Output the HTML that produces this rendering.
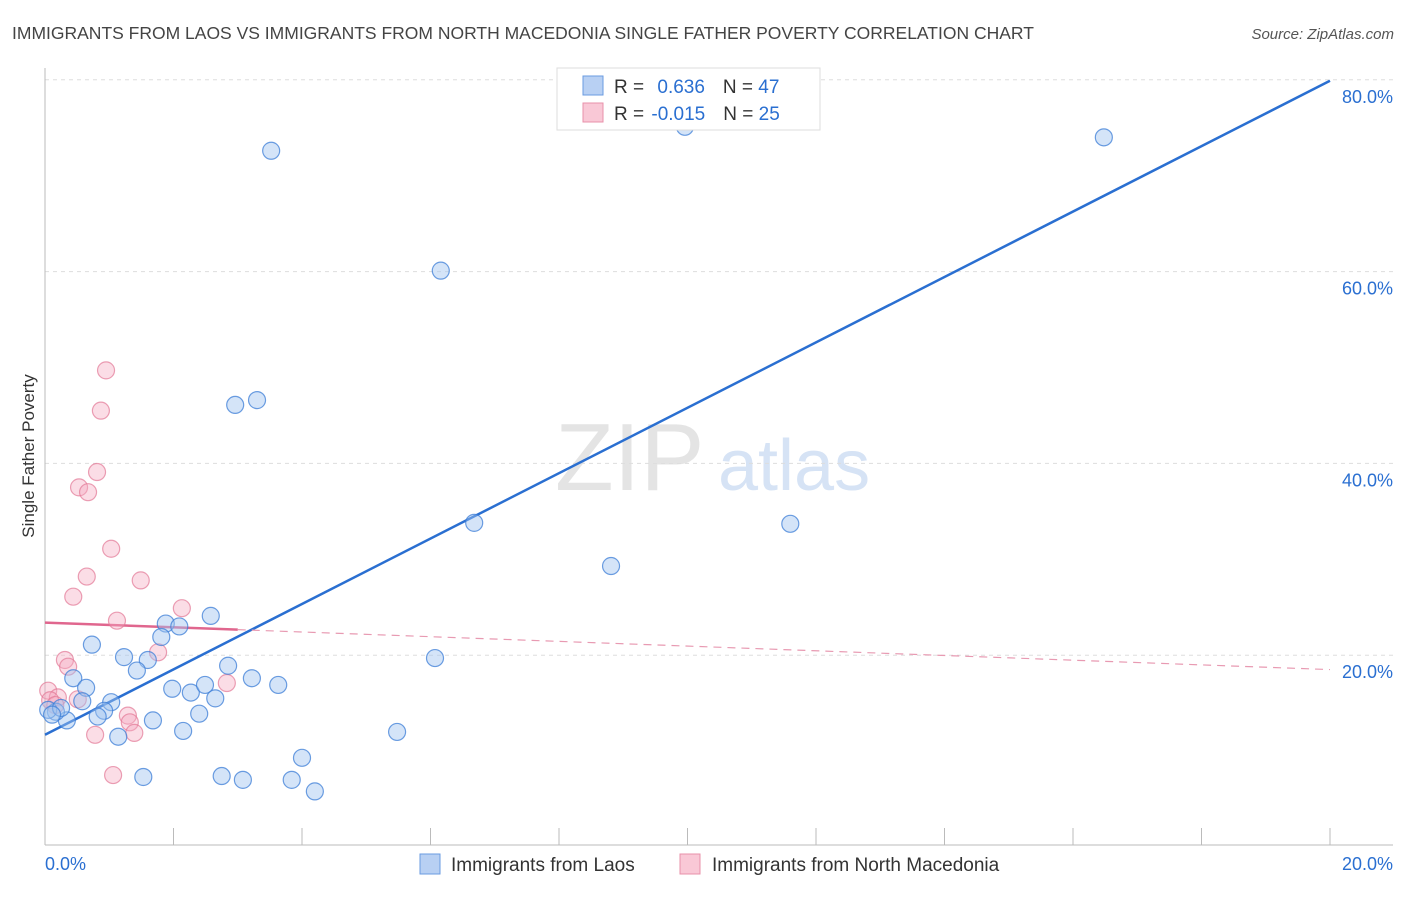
<!DOCTYPE html>
<html><head><meta charset="utf-8"><style>
body{margin:0;background:#fff;font-family:"Liberation Sans",sans-serif}
svg text{font-family:"Liberation Sans",sans-serif}
</style></head><body>
<svg id="chart" width="1406" height="892" viewBox="0 0 1406 892" xmlns="http://www.w3.org/2000/svg">
<text x="12" y="39" font-size="17.5" fill="#444">IMMIGRANTS FROM LAOS VS IMMIGRANTS FROM NORTH MACEDONIA SINGLE FATHER POVERTY CORRELATION CHART</text>
<text x="1394" y="39" font-size="15" fill="#555" text-anchor="end" font-style="italic">Source: ZipAtlas.com</text>
<text x="555" y="490" font-size="96" fill="#e4e4e4" font-family="Liberation Serif">ZIP</text>
<text x="718" y="490" font-size="72" fill="#d6e3f5">atlas</text>
<g id="grid"></g>
<g id="axes"></g>
<g id="lines"></g>
<g id="pts"></g>
<text transform="translate(34,456) rotate(-90)" font-size="17" fill="#333" text-anchor="middle">Single Father Poverty</text>
<g>
<rect x="557" y="68" width="263" height="62" fill="#fff" stroke="#ddd"/>
<rect x="583" y="76" width="20" height="19" fill="#b8d0f3" stroke="#6a9be0"/>
<rect x="583" y="103" width="20" height="19" fill="#f9c8d6" stroke="#e890aa"/>
<text x="614" y="93" font-size="19" fill="#333">R = <tspan fill="#2a6fd1" dx="8">0.636</tspan><tspan dx="18" fill="#333">N = </tspan><tspan fill="#2a6fd1">47</tspan></text>
<text x="614" y="120" font-size="19" fill="#333">R = <tspan fill="#2a6fd1" dx="2">-0.015</tspan><tspan dx="18" fill="#333">N = </tspan><tspan fill="#2a6fd1">25</tspan></text>
</g>
<g>
<rect x="420" y="854" width="20" height="20" fill="#b8d0f3" stroke="#6a9be0"/>
<text x="451" y="871" font-size="19" fill="#333">Immigrants from Laos</text>
<rect x="680" y="854" width="20" height="20" fill="#f9c8d6" stroke="#e890aa"/>
<text x="712" y="871" font-size="19" fill="#333">Immigrants from North Macedonia</text>
</g>
</svg>
<script>
const laosX=[3.52,6.16,9.96,16.48,2.96,3.30,6.68,8.81,11.60,6.07,5.48,2.58,1.88,2.09,1.81,0.73,1.23,1.60,1.43,2.85,3.22,3.63,0.44,0.64,1.98,2.27,2.49,2.65,1.03,0.58,0.92,2.40,1.68,0.82,0.34,0.17,0.05,0.25,0.11,1.14,2.15,2.75,3.08,3.84,4.20,4.00,1.53];
const laosY=[72.6,60.1,75.1,74.0,46.1,46.6,33.8,29.3,33.7,19.7,12.0,24.1,23.3,23.0,21.9,21.1,19.8,19.5,18.4,18.9,17.6,16.9,17.6,16.6,16.5,16.1,16.9,15.5,15.1,15.2,14.2,13.9,13.2,13.6,13.2,14.1,14.3,14.5,13.8,11.5,12.1,7.4,7.0,7.0,5.8,9.3,7.3];
const macX=[0.95,0.87,0.81,0.53,0.67,1.03,0.65,1.49,0.44,2.13,1.12,1.76,0.31,0.36,0.05,0.20,0.51,2.83,1.29,1.32,1.39,0.78,1.06,0.08,0.16];
const macY=[49.7,45.5,39.1,37.5,37.0,31.1,28.2,27.8,26.1,24.9,23.6,20.3,19.5,18.8,16.3,15.6,15.4,17.1,13.7,13.0,11.9,11.7,7.5,15.3,14.8];
const laosTrend=[11.7,79.9];
const macTrend=[23.4,18.5];
const macSolidEnd=3.0;
const yTicks=[20,40,60,80];
const yTickLabels=["20.0%","40.0%","60.0%","80.0%"];
const xTicks=[0,2,4,6,8,10,12,14,16,18,20];
const xEndLabels=["0.0%","20.0%"];
const NS="http://www.w3.org/2000/svg";
const sx=v=>45+v/20*1285;
const sy=v=>847-v*9.59;
function mk(tag,attrs,parent){const e=document.createElementNS(NS,tag);for(const k in attrs)e.setAttribute(k,attrs[k]);parent.appendChild(e);return e;}
const grid=document.getElementById('grid'),axes=document.getElementById('axes'),lines=document.getElementById('lines'),pts=document.getElementById('pts');
yTicks.forEach((t,i)=>{
 const l=mk('line',{x1:45,x2:1393,y1:sy(t),y2:sy(t),stroke:'#ddd','stroke-dasharray':'4,4'},grid);
 
 
 const tx=mk('text',{x:1393,y:sy(t)+23,'font-size':18,fill:'#2a6fd1','text-anchor':'end'},grid);
 tx.textContent=yTickLabels[i];
 
 
});
const ax=mk('line',{x1:45,x2:45,y1:68,y2:845,stroke:'#bbb'},axes);


const bx=mk('line',{x1:45,x2:1393,y1:845,y2:845,stroke:'#bbb'},axes);


xTicks.forEach(t=>{
 const l=mk('line',{x1:sx(t),x2:sx(t),y1:828,y2:845,stroke:'#bbb'},axes);
 
 
});
const xl0=mk('text',{x:45,y:870,'font-size':18,fill:'#2a6fd1'},axes);xl0.textContent=xEndLabels[0];


const xl1=mk('text',{x:1393,y:870,'font-size':18,fill:'#2a6fd1','text-anchor':'end'},axes);xl1.textContent=xEndLabels[1];


function pt(x,y,fill,stroke,name){const c=mk('circle',{cx:sx(x),cy:sy(y),r:8.5,fill:fill,stroke:stroke,'stroke-width':1.2},pts);
 
 }
macX.forEach((x,i)=>pt(x,macY[i],'rgba(246,170,192,0.4)','rgba(226,120,150,0.7)','macedonia-point'));
laosX.forEach((x,i)=>pt(x,laosY[i],'rgba(160,195,240,0.45)','rgba(60,125,215,0.75)','laos-point'));
const lt=mk('line',{x1:sx(0),y1:sy(laosTrend[0]),x2:sx(20),y2:sy(laosTrend[1]),stroke:'#2a6fd1','stroke-width':2.5},lines);


const mAt=x=>macTrend[0]+(macTrend[1]-macTrend[0])*x/20;
const m1=mk('line',{x1:sx(0),y1:sy(macTrend[0]),x2:sx(macSolidEnd),y2:sy(mAt(macSolidEnd)),stroke:'#e0668e','stroke-width':2.5},lines);


const m2=mk('line',{x1:sx(macSolidEnd),y1:sy(mAt(macSolidEnd)),x2:sx(20),y2:sy(macTrend[1]),stroke:'#e89ab2','stroke-width':1.2,'stroke-dasharray':'8,6'},lines);


</script>
</body></html>
